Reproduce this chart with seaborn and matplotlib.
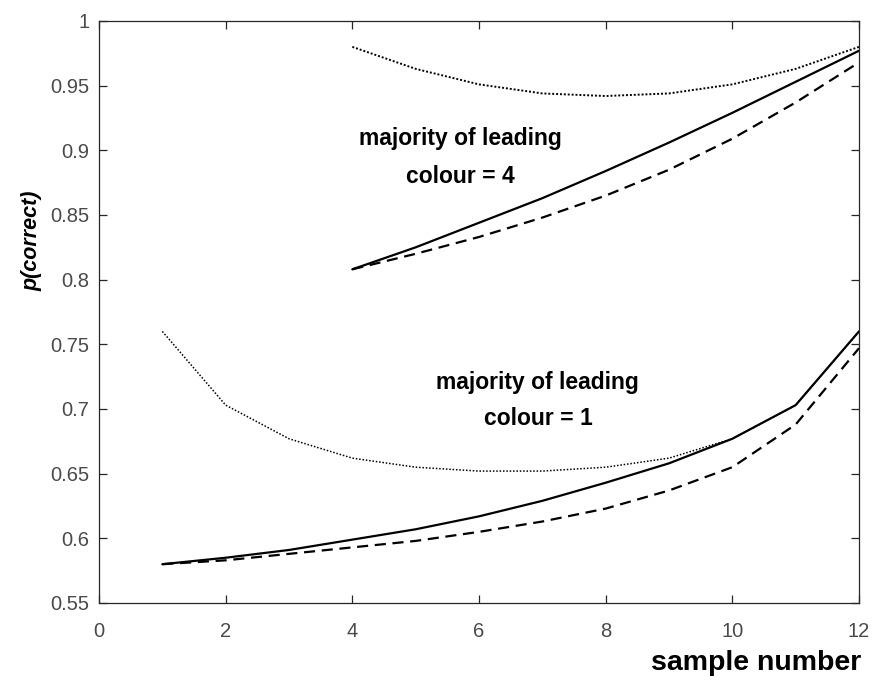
import numpy as np
import pandas as pd
import matplotlib
matplotlib.use("Agg")
import matplotlib.pyplot as plt
import seaborn as sns

# ---- data ----
x_upper = [4, 5, 6, 7, 8, 9, 10, 11, 12]
upper_solid = [0.808, 0.825, 0.844, 0.863, 0.884, 0.906, 0.929, 0.953, 0.977]
upper_dashed = [0.808, 0.820, 0.833, 0.848, 0.865, 0.885, 0.909, 0.937, 0.968]
upper_dotted = [0.980, 0.963, 0.951, 0.944, 0.942, 0.944, 0.951, 0.963, 0.980]

x_lower = [1, 2, 3, 4, 5, 6, 7, 8, 9, 10, 11, 12]
lower_solid = [0.580, 0.585, 0.591, 0.599, 0.607, 0.617, 0.629, 0.643, 0.658, 0.677, 0.703, 0.760]
lower_dashed = [0.580, 0.583, 0.588, 0.593, 0.598, 0.605, 0.613, 0.623, 0.637, 0.655, 0.688, 0.747]
lower_dotted = [0.760, 0.703, 0.677, 0.662, 0.655, 0.652, 0.652, 0.655, 0.662, 0.677, 0.703, 0.760]

x_ticks = [0, 2, 4, 6, 8, 10, 12]
y_ticks = [0.55, 0.6, 0.65, 0.7, 0.75, 0.8, 0.85, 0.9, 0.95, 1.0]
y_tick_labels = ["0.55", "0.6", "0.65", "0.7", "0.75", "0.8", "0.85", "0.9", "0.95", "1"]

annot_upper = "majority of leading\ncolour = 4"
annot_lower = "majority of leading\ncolour = 1"
xlabel = "sample number"
ylabel = "p(correct)"

sns.set_style("white")
plt.rcParams["font.family"] = ["Liberation Sans", "DejaVu Sans"]

fig = plt.figure(figsize=(8.73, 6.80), dpi=100)
ax = fig.add_axes([99 / 873, 1 - 603 / 680, 760 / 873, 582 / 680])

series = [
    (x_upper, upper_solid, "-", 1.6),
    (x_upper, upper_dashed, (0, (5, 3)), 1.6),
    (x_upper, upper_dotted, (0, (1, 1.0)), 1.4),
    (x_lower, lower_solid, "-", 1.6),
    (x_lower, lower_dashed, (0, (5, 3)), 1.6),
    (x_lower, lower_dotted, (0, (1, 1.2)), 1.1),
]
for xs, ys, ls, lw in series:
    df = pd.DataFrame({"x": xs, "y": ys})
    sns.lineplot(data=df, x="x", y="y", ax=ax, color="black", linestyle=ls, linewidth=lw)

ax.set_xlim(0, 12)
ax.set_ylim(0.55, 1.0)
ax.set_xticks(x_ticks)
ax.set_xticklabels([str(t) for t in x_ticks])
ax.set_yticks(y_ticks)
ax.set_yticklabels(y_tick_labels)

for s in ax.spines.values():
    s.set_visible(True)
    s.set_color("#262626")
    s.set_linewidth(0.9)

ax.tick_params(axis="both", which="both", direction="in", length=6, width=0.9,
               color="#262626", labelsize=14.5, labelcolor="#4a4a4a",
               top=True, right=True, bottom=True, left=True)
ax.tick_params(axis="x", pad=14)
ax.tick_params(axis="y", pad=7)

ax.set_xlabel(xlabel, fontsize=20.5, fontweight="bold", ha="right", color="black")
ax.xaxis.set_label_coords(1.003, -0.08)
ax.set_ylabel(ylabel, fontsize=15.5, fontweight="bold", fontstyle="italic", color="black")
ax.yaxis.set_label_coords(-0.074, 0.622)

ax.text(5.70, 0.8945, annot_upper, ha="center", va="center", fontsize=16.5,
        fontweight="bold", linespacing=1.8, color="black")
ax.text(6.93, 0.7067, annot_lower, ha="center", va="center", fontsize=16.5,
        fontweight="bold", linespacing=1.7, color="black")

ax.grid(False)
fig.savefig("out.png", dpi=100, facecolor="white")
